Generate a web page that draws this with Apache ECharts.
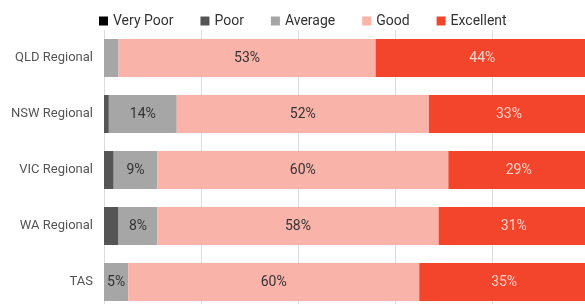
<!DOCTYPE html>
<html>
<head>
<meta charset="utf-8">
<script src="https://cdn.jsdelivr.net/npm/echarts@6/dist/echarts.min.js"></script>
<style>
  html, body { margin: 0; padding: 0; background: #fff; }
  #main { width: 585px; height: 304px; }
</style>
</head>
<body>
<div id="main"></div>
<script>
  var regions = ['QLD Regional', 'NSW Regional', 'VIC Regional', 'WA Regional', 'TAS'];
  var veryPoor = [0, 0, 0, 0, 0];
  var poor = [0, 1, 2, 3, 0];
  var average = [3, 14, 9, 8, 5];
  var good = [53, 52, 60, 58, 60];
  var excellent = [44, 33, 29, 31, 35];

  var font = 'Roboto';

  function makeSeries(name, data, color, labelColor) {
    return {
      name: name,
      type: 'bar',
      stack: 'total',
      barWidth: 38,
      data: data,
      itemStyle: { color: color },
      label: {
        show: true,
        position: 'inside',
        color: labelColor,
        fontFamily: font,
        fontSize: 14,
        formatter: function (p) { return p.value >= 5 ? p.value + '%' : ''; }
      }
    };
  }

  var chart = echarts.init(document.getElementById('main'));
  chart.setOption({
    animation: false,
    legend: {
      left: 94,
      top: 9,
      itemWidth: 9,
      itemHeight: 9,
      itemGap: 27,
      icon: 'rect',
      textStyle: { fontFamily: font, fontSize: 14, color: '#333' },
      data: ['Very Poor', 'Poor', 'Average', 'Good', 'Excellent']
    },
    grid: { left: 104, width: 485, top: 30, height: 280, outerBoundsMode: 'none' },
    xAxis: {
      type: 'value',
      min: 0,
      max: 100,
      interval: 20,
      axisLabel: { show: false },
      axisLine: { show: false },
      axisTick: { show: false },
      splitLine: { lineStyle: { color: '#dcdcdc', width: 1 } }
    },
    yAxis: {
      type: 'category',
      inverse: true,
      data: regions,
      axisLine: { show: false },
      axisTick: { show: false },
      axisLabel: { fontFamily: font, fontSize: 13, color: '#555', margin: 11 }
    },
    series: [
      makeSeries('Very Poor', veryPoor, '#000000', '#fff'),
      makeSeries('Poor', poor, '#555555', '#fff'),
      makeSeries('Average', average, '#a6a6a6', '#333'),
      makeSeries('Good', good, '#f9b3a9', '#333'),
      makeSeries('Excellent', excellent, '#f2452b', '#fdd3cc')
    ]
  });
</script>
</body>
</html>
